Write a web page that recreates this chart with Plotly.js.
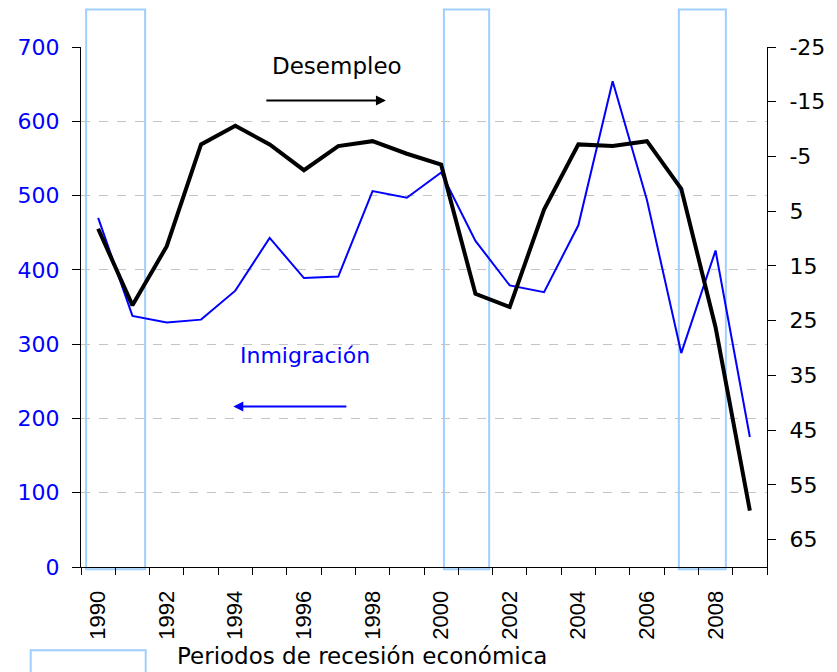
<!DOCTYPE html>
<html>
<head>
<meta charset="utf-8">
<script src="https://cdn.plot.ly/plotly-3.0.1.min.js"></script>
<style>
  html, body { margin: 0; padding: 0; background: #fff; }
  #chart { width: 837px; height: 672px; }
</style>
</head>
<body>
<div id="chart"></div>
<script>
// ---- data ----
const years = [1990,1991,1992,1993,1994,1995,1996,1997,1998,1999,2000,2001,2002,2003,2004,2005,2006,2007,2008,2009];
const inmigracion = [470,338,329,333,372,443,389,391,506,497,531,439,379,370,460,654,494,288,426,175];
const desempleo = [8.2,22.2,11.4,-7.2,-10.6,-7.2,-2.5,-6.9,-7.8,-5.5,-3.5,20.1,22.5,4.7,-7.2,-6.9,-7.8,0.9,26.2,59.7];
const xTickYears = [1990,1992,1994,1996,1998,2000,2002,2004,2006,2008];
const xTickLabels = xTickYears.map(String);
const leftTicks = [0,100,200,300,400,500,600,700];
const rightTicks = [-25,-15,-5,5,15,25,35,45,55,65];
const rightTickLabels = ['-25','-15','-5','5','15','25','35','45','55','65'];
const recessionStart = [1989.65, 2000.08, 2006.93];
const recessionEnd = [1991.37, 2001.40, 2008.30];
const labelDesempleo = 'Desempleo';
const labelInmigracion = 'Inmigración';
const labelRecesion = 'Periodos de recesión económica';

const boundaries = [];
for (let i = 0; i <= years.length; i++) boundaries.push(years[0] - 0.5 + i);

const traces = [
  {
    x: years, y: inmigracion, type: 'scatter', mode: 'lines',
    line: { color: '#0000ff', width: 2 }, yaxis: 'y', name: labelInmigracion,
    hoverinfo: 'skip'
  },
  {
    x: years, y: desempleo, type: 'scatter', mode: 'lines',
    line: { color: '#000000', width: 4 }, yaxis: 'y2', name: labelDesempleo,
    hoverinfo: 'skip'
  }
];

const shapes = recessionStart.map((s, i) => ({
  type: 'rect', xref: 'x', yref: 'paper',
  x0: s, x1: recessionEnd[i], y0: -0.0045, y1: 1.072,
  line: { color: '#9fcfff', width: 2 }, fillcolor: 'rgba(0,0,0,0)', layer: 'below'
}));
shapes.push({
  type: 'rect', xref: 'paper', yref: 'paper',
  x0: -0.0733, x1: 0.0943, y0: -0.16, y1: -0.25,
  line: { color: '#9fcfff', width: 2 }, fillcolor: 'rgba(0,0,0,0)'
});

const fam = 'DejaVu Sans, Verdana, sans-serif';

const annotations = [
  { text: labelDesempleo, x: 1996.96, y: 674, xref: 'x', yref: 'y', showarrow: false,
    font: { family: fam, size: 23, color: '#000' } },
  { text: '', x: 1998.39, y: 628, ax: 1994.86, ay: 628, xref: 'x', yref: 'y', axref: 'x', ayref: 'y',
    showarrow: true, arrowhead: 2, arrowsize: 1, arrowwidth: 2, arrowcolor: '#000' },
  { text: labelInmigracion, x: 1996.02, y: 285, xref: 'x', yref: 'y', showarrow: false,
    font: { family: fam, size: 22, color: '#0000ff' } },
  { text: '', x: 1993.94, y: 216, ax: 1997.28, ay: 216, xref: 'x', yref: 'y', axref: 'x', ayref: 'y',
    showarrow: true, arrowhead: 2, arrowsize: 1, arrowwidth: 2, arrowcolor: '#0000ff' },
  { text: labelRecesion, x: 0.1375, y: -0.1717, xref: 'paper', yref: 'paper', xanchor: 'left', yanchor: 'middle',
    showarrow: false, font: { family: fam, size: 23, color: '#000' } }
];

const layout = {
  width: 837, height: 672,
  margin: { l: 81, r: 70, t: 47, b: 105, pad: 0 },
  paper_bgcolor: '#fff', plot_bgcolor: '#fff',
  showlegend: false,
  xaxis: {
    type: 'linear', range: [years[0] - 0.5, years[years.length - 1] + 0.5],
    tickmode: 'array', tickvals: xTickYears, ticktext: xTickLabels,
    ticks: '', tickangle: -90, ticklabelstandoff: 14,
    tickfont: { family: 'Liberation Sans, Arial, sans-serif', size: 22, color: '#000' },
    showgrid: false, zeroline: false,
    showline: true, linecolor: '#000', linewidth: 1,
    minor: { tickmode: 'array', tickvals: boundaries, ticks: 'outside', ticklen: 7, tickwidth: 1, tickcolor: '#000', showgrid: false }
  },
  yaxis: {
    range: [0, 700], tickmode: 'array', tickvals: leftTicks,
    ticks: 'outside', ticklen: 8, tickcolor: '#000', ticklabelstandoff: 8,
    tickfont: { family: fam, size: 22, color: '#0000ff' },
    showgrid: true, gridcolor: '#c4c4c4', gridwidth: 1, griddash: 'dash',
    zeroline: false, showline: true, linecolor: '#000', linewidth: 1
  },
  yaxis2: {
    overlaying: 'y', side: 'right', anchor: 'x',
    range: [70, -25], tickmode: 'array', tickvals: rightTicks, ticktext: rightTickLabels,
    ticks: 'outside', ticklen: 8, tickcolor: '#000', ticklabelstandoff: 9,
    tickfont: { family: fam, size: 22, color: '#000' },
    showgrid: false, zeroline: false, showline: true, linecolor: '#000', linewidth: 1
  },
  yaxis3: {
    overlaying: 'y', side: 'left', anchor: 'x',
    range: [0, 700], tickmode: 'array', tickvals: leftTicks,
    ticks: 'inside', ticklen: 8, tickcolor: '#000', showticklabels: false,
    showgrid: false, zeroline: false, showline: false
  },
  yaxis4: {
    overlaying: 'y', side: 'right', anchor: 'x',
    range: [70, -25], tickmode: 'array', tickvals: rightTicks,
    ticks: 'inside', ticklen: 8, tickcolor: '#000', showticklabels: false,
    showgrid: false, zeroline: false, showline: false
  },
  shapes: shapes,
  annotations: annotations
};

Plotly.newPlot('chart', traces, layout, { displayModeBar: false, staticPlot: true });
</script>
</body>
</html>
